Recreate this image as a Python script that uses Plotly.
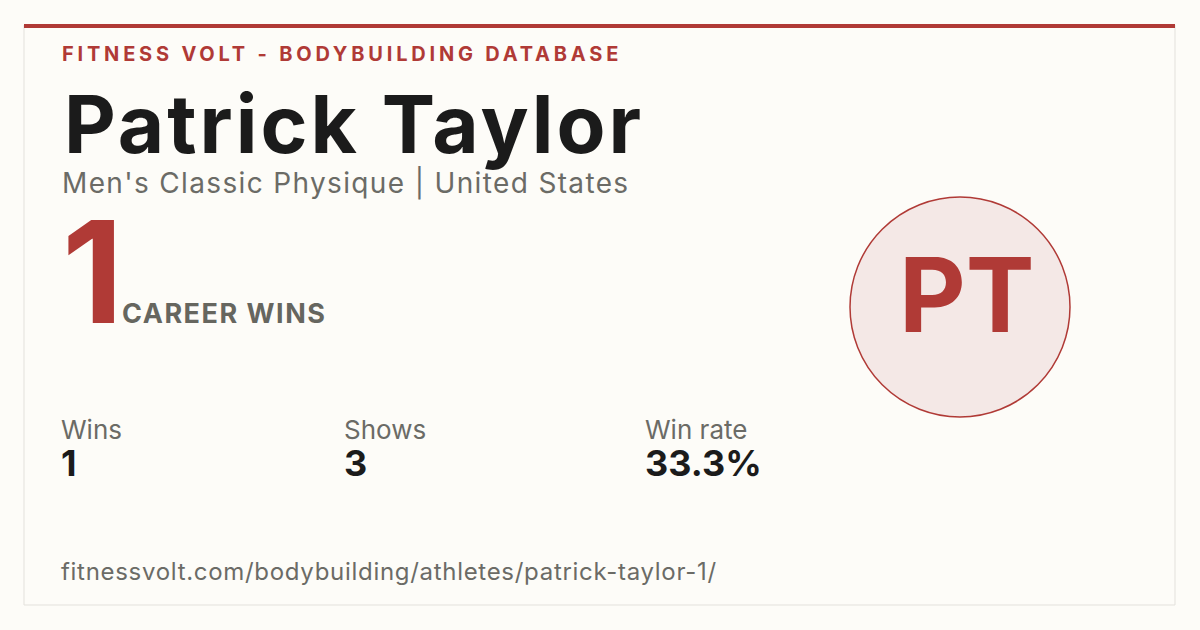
import plotly.graph_objects as go

# card content
site_label = "FITNESS VOLT - BODYBUILDING DATABASE"
athlete_name = "Patrick Taylor"
division = "Men's Classic Physique"
country = "United States"
career_wins = 1
initials = "PT"
stat_labels = ["Wins", "Shows", "Win rate"]
stat_values = ["1", "3", "33.3%"]
profile_url = "fitnessvolt.com/bodybuilding/athletes/patrick-taylor-1/"

RED = "#B03A36"
DARK = "#1B1B1B"
GREY = "#6B6B66"
BG = "#FDFCF8"
FONT = "Inter"

fig = go.Figure()

def txt(x, y, s, size, color, weight=400, xanchor="left", spacing=0):
    if spacing:
        s = '<span style="letter-spacing:%spx">%s</span>' % (spacing, s)
    fig.add_annotation(x=x, y=y, text=s, showarrow=False, xanchor=xanchor, yanchor="middle",
                       font=dict(family=FONT, size=size, color=color, weight=weight))

# card frame + red top bar
fig.add_shape(type="rect", x0=24, x1=1175, y0=25, y1=605, line=dict(color="#E3E1DC", width=1), fillcolor=BG, layer="below")
fig.add_shape(type="rect", x0=24, x1=1175, y0=24, y1=28, line=dict(width=0), fillcolor=RED)

# avatar circle
fig.add_shape(type="circle", x0=850, x1=1070, y0=197, y1=417, line=dict(color=RED, width=1.5), fillcolor="#F4E8E6")
txt(967, 294, initials, 103, RED, 700, xanchor="center")

txt(60, 54, site_label, 20, RED, 700, spacing=3.8)
txt(62, 123, athlete_name, 80, DARK, 700, spacing=3)
txt(60, 183, division + " | " + country, 28, GREY, spacing=1.35)
txt(60, 271, str(career_wins), 142, RED, 700)
txt(120, 313, "CAREER WINS", 27, "#66665F", 700, spacing=1.5)

stat_x = [59, 342, 643]
for x, lab, val in zip(stat_x, stat_labels, stat_values):
    txt(x, 429, lab, 26, GREY)
    txt(x, 463, val, 36, DARK, 700)

txt(59, 571, profile_url, 24, GREY, spacing=0.7)

# page body adds an 8px margin, so the axes are offset by 8 to keep marks in place
fig.update_xaxes(range=[8, 1208], visible=False, fixedrange=True)
fig.update_yaxes(range=[638, 8], visible=False, fixedrange=True)
fig.update_layout(width=1200, height=630, margin=dict(l=0, r=0, t=0, b=0),
                  paper_bgcolor=BG, plot_bgcolor=BG, showlegend=False)

fig.write_html("out.html", config={"displayModeBar": False},
               post_script="document.body.style.background='%s';" % BG)
